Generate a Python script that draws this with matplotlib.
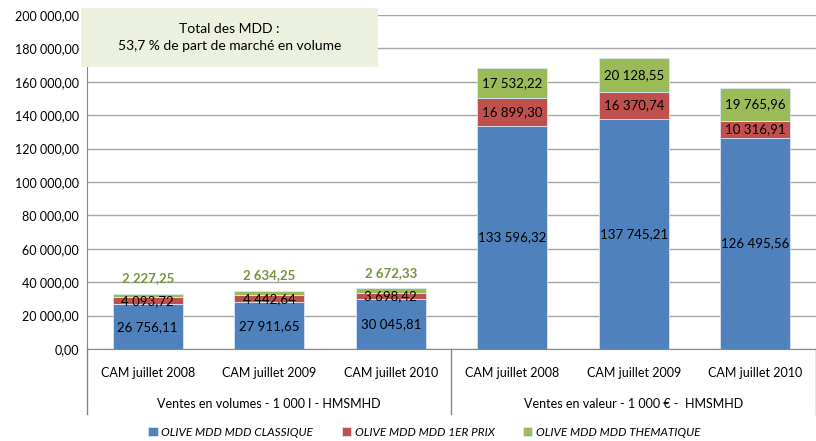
import matplotlib.pyplot as plt
import numpy as np
from matplotlib.patches import Rectangle

plt.rcParams["font.family"] = ["Lato", "DejaVu Sans"]

categories = ["CAM juillet 2008", "CAM juillet 2009", "CAM juillet 2010",
              "CAM juillet 2008", "CAM juillet 2009", "CAM juillet 2010"]
groups = ["Ventes en volumes - 1 000 l - HMSMHD", "Ventes en valeur - 1 000 € -  HMSMHD"]
classique = [26756.11, 27911.65, 30045.81, 133596.32, 137745.21, 126495.56]
premier_prix = [4093.72, 4442.64, 3698.42, 16899.30, 16370.74, 10316.91]
thematique = [2227.25, 2634.25, 2672.33, 17532.22, 20128.55, 19765.96]
series_names = ["OLIVE MDD MDD CLASSIQUE", "OLIVE MDD MDD 1ER PRIX", "OLIVE MDD MDD THEMATIQUE"]
colors = ["#4F81BD", "#C0504D", "#9BBB59"]


def fmt(v):
    s = f"{v:,.2f}"
    return s.replace(",", " ").replace(".", ",")


def main():
    fig = plt.figure(figsize=(8.16, 4.41), dpi=100)
    ax = fig.add_axes([0.1066, 0.2086, 0.8934, 0.7574])

    x = np.arange(len(categories))
    width = 0.58
    series = [classique, premier_prix, thematique]
    bottom = np.zeros(len(categories))
    for vals, col, name in zip(series, colors, series_names):
        ax.bar(x, vals, width, bottom=bottom, color=col, edgecolor="#DCE6F2",
               linewidth=0.6, label=name, zorder=3)
        for i, v in enumerate(vals):
            if v < 3000:
                # small green segments get their label above the bar
                ax.annotate(fmt(v), (x[i], bottom[i] + v), xytext=(0, 11),
                            textcoords="offset points", ha="center", va="center",
                            fontsize=9.5, color="#77933C", fontweight="bold")
            else:
                ax.text(x[i], bottom[i] + v / 2, fmt(v), ha="center", va="center",
                        fontsize=9.5, color="black", zorder=4)
        bottom += np.array(vals)

    ax.set_ylim(0, 200000)
    ax.set_xlim(-0.5, len(categories) - 0.5)
    ticks = np.arange(0, 200001, 20000)
    ax.set_yticks(ticks)
    ax.set_yticklabels([fmt(t) for t in ticks], fontsize=9)
    ax.yaxis.grid(True, color="#A6A6A6", linewidth=1, zorder=0)
    ax.set_axisbelow(True)
    ax.tick_params(axis="y", length=0, pad=6)
    ax.tick_params(axis="x", length=0, pad=13)
    ax.set_xticks(x)
    ax.set_xticklabels(categories, fontsize=9)
    for side in ["top", "right"]:
        ax.spines[side].set_visible(False)
    ax.spines["left"].set_color("#868686")
    ax.spines["bottom"].set_color("#868686")

    # group separators and labels under the category axis
    trans = ax.get_xaxis_transform()
    for xs in [-0.5, 2.5, 5.5]:
        ax.plot([xs, xs], [0, -0.195], transform=trans, color="#868686",
                linewidth=1, clip_on=False)
    ax.text(1, -0.165, groups[0], transform=trans, ha="center", va="center", fontsize=9)
    ax.text(4, -0.165, groups[1], transform=trans, ha="center", va="center", fontsize=9)

    # annotation box
    fig.patches.append(Rectangle((0.0993, 0.848), 0.364, 0.134, transform=fig.transFigure,
                                 facecolor="#EBF1DE", edgecolor="none", zorder=5))
    fig.text(0.281, 0.915, "Total des MDD :\n53,7 % de part de marché en volume",
             ha="center", va="center", fontsize=10, linespacing=1.45, zorder=6)

    handles, labels = ax.get_legend_handles_labels()
    fig.legend(handles, labels, loc="center", bbox_to_anchor=(0.52, 0.02), ncol=3,
               frameon=False, prop={"size": 8.5, "style": "italic"},
               handlelength=0.8, handleheight=0.8, handletextpad=0.3, columnspacing=2.4)

    fig.savefig("out.png", dpi=100)


if __name__ == "__main__":
    main()
